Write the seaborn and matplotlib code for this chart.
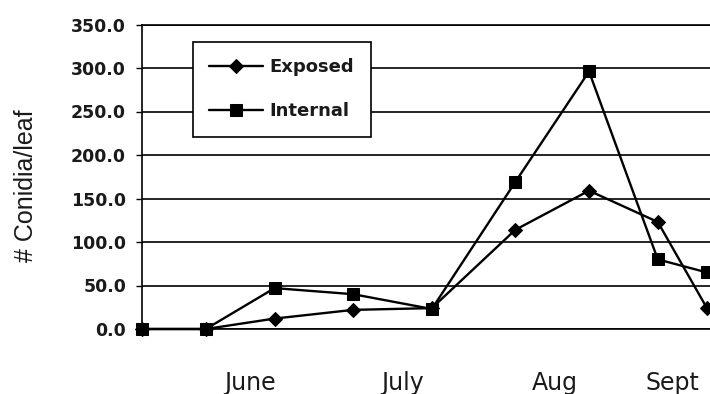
import matplotlib
matplotlib.use("Agg")
import matplotlib.pyplot as plt
from matplotlib.ticker import FormatStrFormatter
import pandas as pd
import seaborn as sns

# Sampling dates over the season and conidia counts per leaf
sample_dates = ["2000-05-19", "2000-06-01", "2000-06-15", "2000-07-01", "2000-07-17",
                "2000-08-03", "2000-08-18", "2000-09-01", "2000-09-11"]
exposed = [0.0, 0.0, 12.0, 22.0, 24.0, 114.0, 159.0, 123.0, 24.0]
internal = [0.0, 0.0, 47.0, 40.0, 23.0, 169.0, 296.0, 80.0, 65.0]

month_labels = ["June", "July", "Aug", "Sept"]
month_label_dates = ["2000-06-10", "2000-07-11", "2000-08-11", "2000-09-04"]
y_ticks = [0, 50, 100, 150, 200, 250, 300, 350]

df = pd.DataFrame({
    "date": pd.to_datetime(sample_dates),
    "Exposed": exposed,
    "Internal": internal,
})

sns.set_style("white")
plt.rcParams["font.family"] = ["DejaVu Sans"]

fig = plt.figure(figsize=(7.1, 3.94), dpi=100)
ax = fig.add_axes([142 / 710, 1 - 329 / 394, 1 - 142 / 710, (329 - 24.5) / 394])

line_kw = dict(color="black", linewidth=1.7, markeredgecolor="black",
               markerfacecolor="black", clip_on=False, ax=ax)
sns.lineplot(data=df, x="date", y="Exposed", marker="D", markersize=7.2,
             label="Exposed", zorder=4, **line_kw)
sns.lineplot(data=df, x="date", y="Internal", marker="s", markersize=8,
             label="Internal", zorder=4, **line_kw)

ax.set_ylim(0, 350)
ax.set_xlim(pd.Timestamp("2000-05-19"), pd.Timestamp("2000-09-11 15:00"))

ax.set_yticks(y_ticks)
ax.yaxis.set_major_formatter(FormatStrFormatter("%.1f"))
ax.set_xticks(pd.to_datetime(month_label_dates), labels=month_labels)

ax.tick_params(axis="y", which="major", left=True, length=4.5, width=1.0,
               color="black", pad=7, labelsize=12.5, labelcolor="#1a1a1a")
for lbl in ax.get_yticklabels():
    lbl.set_fontweight("bold")
ax.tick_params(axis="x", which="major", bottom=False, length=0, pad=30,
               labelsize=17, labelcolor="#1a1a1a")

ax.grid(axis="y", color="black", linewidth=1.2)
ax.grid(axis="x", visible=False)
ax.set_axisbelow(True)

for side in ["left", "top", "bottom"]:
    ax.spines[side].set_visible(True)
    ax.spines[side].set_color("black")
    ax.spines[side].set_linewidth(1.2)
ax.spines["right"].set_visible(False)

ax.set_xlabel("")
ax.set_ylabel("# Conidia/leaf", fontsize=18, family="Liberation Sans", color="#1a1a1a")
ax.yaxis.set_label_coords(-0.183, 0.47)

leg = ax.legend(loc="upper left", bbox_to_anchor=((193 - 142) / 568, (329 - 42) / 304.5),
                borderaxespad=0, frameon=True, fancybox=False, framealpha=1,
                edgecolor="black", borderpad=0.9, labelspacing=1.45,
                handlelength=3.0, handletextpad=0.35,
                prop={"weight": "bold", "size": 13})
leg.get_frame().set_linewidth(1.2)
for t in leg.get_texts():
    t.set_color("#1a1a1a")

fig.savefig("out.png", dpi=100)
